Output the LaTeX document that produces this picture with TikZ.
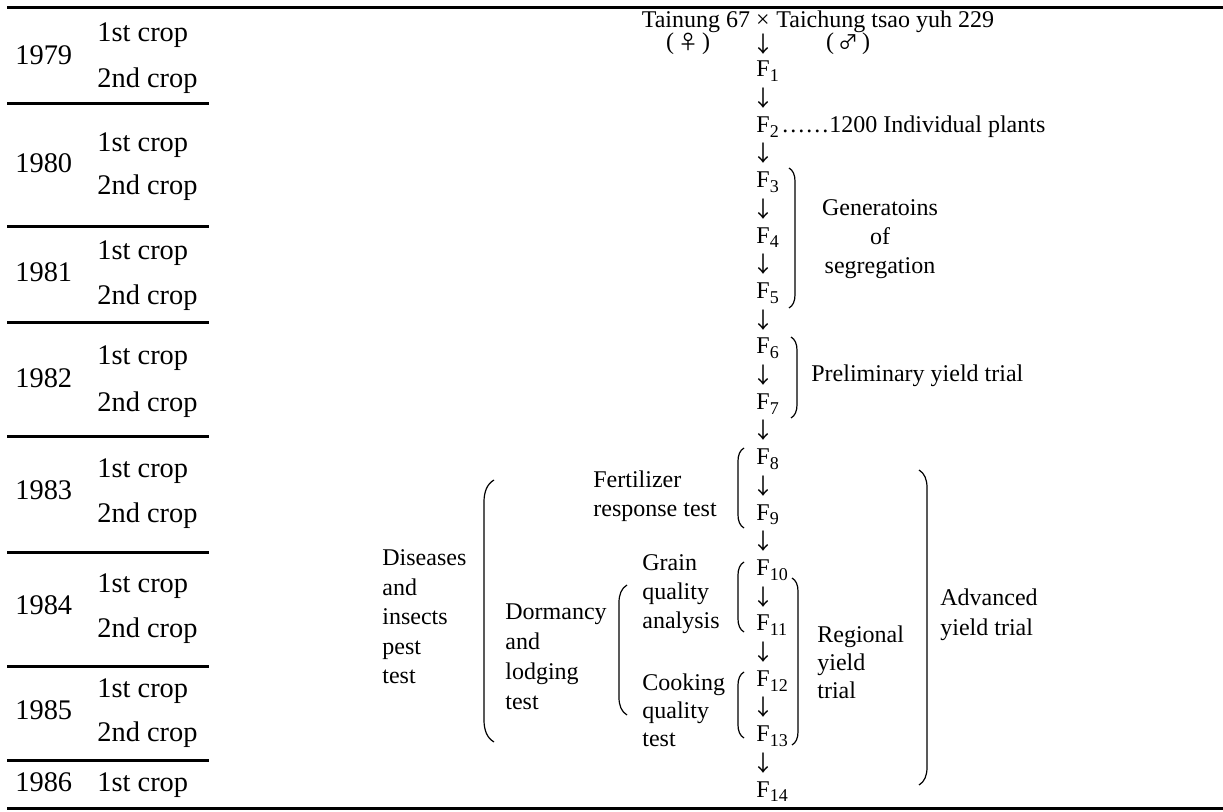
\documentclass[tikz,border=0pt]{standalone}
\usepackage{fontspec}
\setmainfont{Liberation Serif}
\newfontfamily\cjkfont{Noto Sans CJK SC}
\newcommand{\subF}[1]{F\raisebox{-0.42ex}{\fontsize{9pt}{9pt}\selectfont #1}}
\newcommand{\brL}[4]{%
 \draw[brk] (#1+#4,#2) .. controls (#1+0.3*#4,#2+0.4*#4) and (#1,#2+1.2*#4) .. (#1,#2+2.2*#4) -- (#1,#3-2.2*#4) .. controls (#1,#3-1.2*#4) and (#1+0.3*#4,#3-0.4*#4) .. (#1+#4,#3);}
\newcommand{\brR}[4]{%
 \draw[brk] (#1-#4,#2) .. controls (#1-0.3*#4,#2+0.4*#4) and (#1,#2+1.2*#4) .. (#1,#2+2.2*#4) -- (#1,#3-2.2*#4) .. controls (#1,#3-1.2*#4) and (#1-0.3*#4,#3-0.4*#4) .. (#1-#4,#3);}
\begin{document}
\begin{tikzpicture}[x=0.5pt,y=-0.5pt,
  every node/.style={inner sep=0pt, font=\fontsize{12pt}{14.5pt}\selectfont},
  lbl/.style={anchor=mid west},
  tbl/.style={anchor=mid west, font=\fontsize{14.2pt}{16pt}\selectfont},
  gen/.style={anchor=mid west},
  arr/.style={anchor=center, font=\cjkfont\fontsize{11pt}{12pt}\selectfont},
  multi/.style={anchor=west, align=left},
  rule/.style={line width=1.5pt},
  brk/.style={line width=0.6pt}]
\useasboundingbox (0,0) rectangle (1223,812);
% rules
\draw[rule] (7,8) -- (1223,8);
\draw[rule] (7,809) -- (1223,809);
\foreach \y in {104,227,323,437,553,667,761} \draw[rule] (7,\y) -- (209,\y);
% years
\node[tbl] (y79) at (15,60) {1979};
\node[tbl] (y80) at (15,168) {1980};
\node[tbl] (y81) at (15,277) {1981};
\node[tbl] (y82) at (15,383) {1982};
\node[tbl] (y83) at (15,495) {1983};
\node[tbl] (y84) at (15,610) {1984};
\node[tbl] (y85) at (15,715) {1985};
\node[tbl] (y86) at (15,787) {1986};
% crops
\foreach \y/\t [count=\i] in {37/1st,83/2nd,147/1st,190/2nd,255/1st,300/2nd,360/1st,407/2nd,473/1st,518/2nd,588/1st,633/2nd,693/1st,737/2nd,787/1st}
  \node[tbl] (c\i) at (97,\y) {\t\ crop};
% cross
\node[anchor=mid east] (p1) at (770,23) {Tainung 67 ×};
\node[anchor=mid west] (p2) at (776,23) {Taichung tsao yuh 229};
\node[anchor=mid] (fem) at (688,45) {(\,{\cjkfont\fontsize{10pt}{12pt}\selectfont ♀}\,)};
\node[anchor=mid] (mal) at (848,45) {(\,{\cjkfont\fontsize{10pt}{12pt}\selectfont ♂}\,)};
\node[arr] (a0) at (763,44) {↓};
% chain
\foreach \k in {1,...,14}{
  \pgfmathsetmacro{\yf}{17+27.7*2*\k}
  \node[gen] (f\k) at (756,\yf) {\subF{\k}};
}
\foreach \k in {1,...,13}{
  \pgfmathsetmacro{\ya}{15+27.7*(2*\k+1)}
  \node[arr] (a\k) at (763,\ya) {↓};
}
\node[lbl] (ind) at (781,127.8) {……1200 Individual plants};
% segregation
\brR{795}{168}{308}{6}
\node[align=center] (seg) at (880,239) {Generatoins\\of\\segregation};
% preliminary
\brR{797}{337}{418}{6}
\node[lbl] (pre) at (811,377) {Preliminary yield trial};
% fertilizer
\brL{738}{448}{528}{6}
\node[multi] (fer) at (593,496) {Fertilizer\\response test};
% diseases
\brL{484}{480}{742}{10}
\node[multi, font=\fontsize{12pt}{14.75pt}\selectfont] (dis) at (382,617) {Diseases\\and\\insects\\pest\\test};
% dormancy
\node[multi, font=\fontsize{12pt}{15pt}\selectfont] (dor) at (505,657) {Dormancy\\and\\lodging\\test};
\brL{619}{585}{715}{8}
\node[multi] (gra) at (642,594) {Grain\\quality\\analysis};
\node[multi, font=\fontsize{12pt}{14pt}\selectfont] (coo) at (642,710) {Cooking\\quality\\test};
\brL{738}{562}{632}{6}
\brL{738}{672}{738}{6}
% regional
\brR{798}{578}{745}{6}
\node[multi, font=\fontsize{12pt}{14pt}\selectfont] (reg) at (817,662) {Regional\\yield\\trial};
% advanced
\brR{927}{470}{785}{8}
\node[multi, font=\fontsize{12pt}{15pt}\selectfont] (adv) at (940,615) {Advanced\\yield trial};
\end{tikzpicture}
\end{document}
